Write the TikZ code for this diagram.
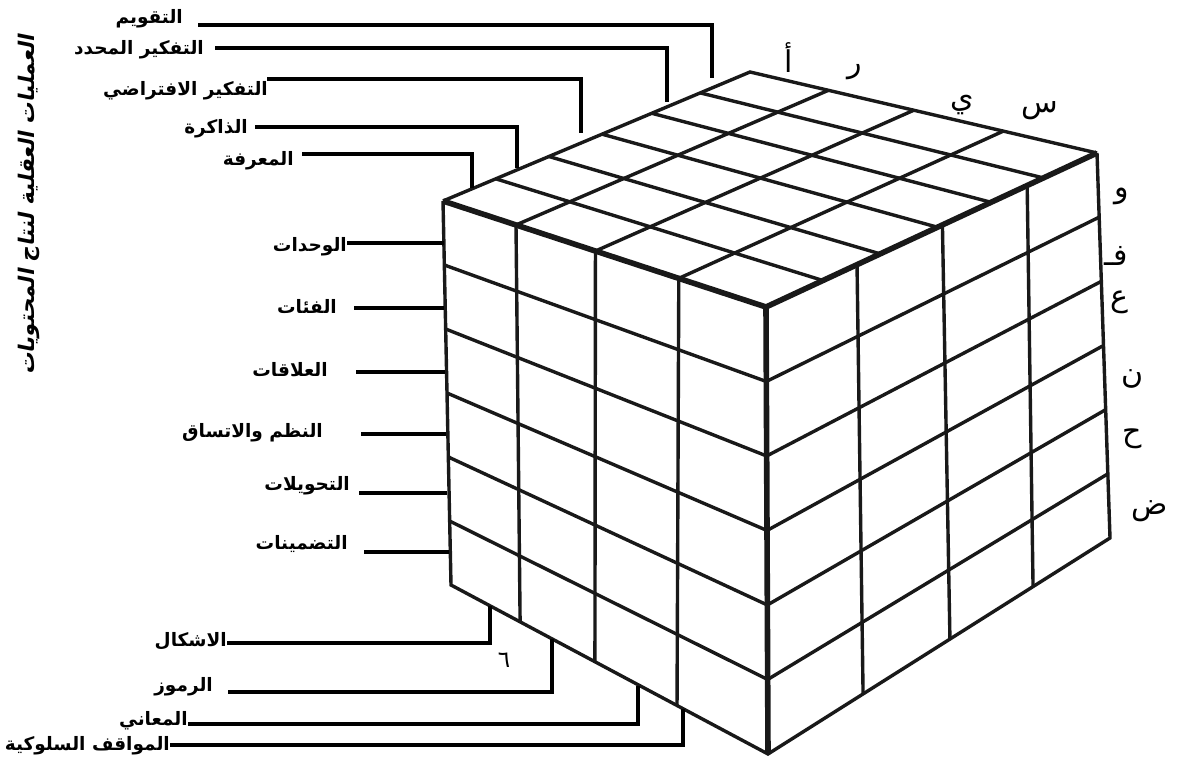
\documentclass[tikz,border=0pt]{standalone}
\usepackage{fontspec}
\usetikzlibrary{calc}
\TeXXeTstate=1
\newfontfamily\arabicfont[Script=Arabic]{DejaVu Sans}
\newfontfamily\arabicbf[Script=Arabic]{DejaVu Sans Bold}
\newfontfamily\titlefont[Script=Arabic,FakeSlant=0.2]{DejaVu Sans Bold}
\begin{document}
\begin{tikzpicture}[x=1pt,y=-1pt,
  gridline/.style={line width=3.4pt, draw=black!90},
  edgeline/.style={line width=5.6pt, draw=black!90, line join=round},
  leader/.style={line width=3.3pt, draw=black},
  lab/.style={font=\arabicbf\fontsize{18.5}{22}\selectfont, inner sep=0pt, anchor=east},
  letr/.style={font=\arabicfont\fontsize{30}{34}\selectfont, inner sep=0pt},
  ttl/.style={font=\titlefont\fontsize{21.5}{26}\selectfont, inner sep=0pt, rotate=90}]
\useasboundingbox (0,0) rectangle (1181,767);
% cube corners
\coordinate (L) at (443,201);
\coordinate (B) at (750,72);
\coordinate (R) at (1097,153);
\coordinate (F) at (766,307);
\coordinate (BL) at (451,585);
\coordinate (FB) at (768,754);
\coordinate (RB) at (1110,538);
% top face grid
\foreach \t in {0.172,0.345,0.518,0.68,0.838}
  \draw[gridline] ($(L)!\t!(B)$) -- ($(F)!\t!(R)$);
\foreach \s in {0.226,0.472,0.73}
  \draw[gridline] ($(L)!\s!(F)$) -- ($(B)!\s!(R)$);
% front face grid
\foreach \s/\u in {0.226/0.218,0.472/0.454,0.73/0.713}
  \draw[gridline] ($(L)!\s!(F)$) -- ($(BL)!\u!(FB)$);
\foreach \k in {1,...,5}
  \draw[gridline] ($(L)!\k/6!(BL)$) -- ($(F)!\k/6!(FB)$);
% right face grid
\foreach \a/\b in {0.275/0.278,0.533/0.532,0.789/0.775}
  \draw[gridline] ($(F)!\a!(R)$) -- ($(FB)!\b!(RB)$);
\foreach \k in {1,...,5}
  \draw[gridline] ($(F)!\k/6!(FB)$) -- ($(R)!\k/6!(RB)$);
% outline
\draw[gridline] (L) -- (B) -- (R);
\draw[gridline] (L) -- (BL) -- (FB) -- (RB) -- (R);
\draw[edgeline] (L) -- (F) -- (R);
\draw[edgeline] (F) -- (FB);

% title
\node[ttl] (title) at (29,205) {\beginR العمليات العقلية لنتاج المحتويات\endR};

% operations (top-left)
\node[lab] (op1) at (183,19) {\beginR التقويم\endR};
\node[lab] (op2) at (204,50) {\beginR التفكير المحدد\endR};
\node[lab] (op3) at (268,91) {\beginR التفكير الافتراضي\endR};
\node[lab] (op4) at (248,129) {\beginR الذاكرة\endR};
\node[lab] (op5) at (294,161) {\beginR المعرفة\endR};
\coordinate (o1a) at (198,25); \coordinate (o1b) at (712,25); \coordinate (o1c) at (712,78);
\coordinate (o2a) at (215,48); \coordinate (o2b) at (667,48); \coordinate (o2c) at (667,102);
\coordinate (o3a) at (267,79); \coordinate (o3b) at (581,79); \coordinate (o3c) at (581,133);
\coordinate (o4a) at (255,127); \coordinate (o4b) at (517,127); \coordinate (o4c) at (517,168);
\coordinate (o5a) at (302,154); \coordinate (o5b) at (472,154); \coordinate (o5c) at (472,188);
\draw[leader] (o1a) -- (o1b) -- (o1c);
\draw[leader] (o2a) -- (o2b) -- (o2c);
\draw[leader] (o3a) -- (o3b) -- (o3c);
\draw[leader] (o4a) -- (o4b) -- (o4c);
\draw[leader] (o5a) -- (o5b) -- (o5c);

% products (front-left)
\node[lab] (pr1) at (347,247) {\beginR الوحدات\endR};
\node[lab] (pr2) at (337,307) {\beginR الفئات\endR};
\node[lab] (pr3) at (328,370) {\beginR العلاقات\endR};
\node[lab] (pr4) at (323,433) {\beginR النظم والاتساق\endR};
\node[lab] (pr5) at (350,486) {\beginR التحويلات\endR};
\node[lab] (pr6) at (348,544) {\beginR التضمينات\endR};
\coordinate (p1a) at (347,243); \coordinate (p1b) at (444,243);
\coordinate (p2a) at (354,308); \coordinate (p2b) at (444,308);
\coordinate (p3a) at (356,372); \coordinate (p3b) at (445,372);
\coordinate (p4a) at (361,434); \coordinate (p4b) at (446,434);
\coordinate (p5a) at (359,493); \coordinate (p5b) at (447,493);
\coordinate (p6a) at (364,552); \coordinate (p6b) at (449,552);
\foreach \i in {1,...,6} \draw[leader] (p\i a) -- (p\i b);

% contents (bottom)
\node[lab] (ct1) at (227,641) {\beginR الاشكال\endR};
\node[lab] (ct2) at (213,687) {\beginR الرموز\endR};
\node[lab] (ct3) at (188,721) {\beginR المعاني\endR};
\node[lab] (ct4) at (170,746) {\beginR المواقف السلوكية\endR};
\coordinate (c1a) at (227,643); \coordinate (c1b) at (490,643); \coordinate (c1c) at (490,606);
\coordinate (c2a) at (228,692); \coordinate (c2b) at (552,692); \coordinate (c2c) at (552,639);
\coordinate (c3a) at (188,724); \coordinate (c3b) at (638,724); \coordinate (c3c) at (638,686);
\coordinate (c4a) at (170,745); \coordinate (c4b) at (683,745); \coordinate (c4c) at (683,709);
\foreach \i in {1,...,4} \draw[leader] (c\i a) -- (c\i b) -- (c\i c);

% letters
\node[letr] (la) at (789,58) {\beginR أ\endR};
\node[letr] (lr) at (855,72) {\beginR ر\endR};
\node[letr] (ly) at (962,105) {\beginR ي\endR};
\node[letr] (ls) at (1040,111) {\beginR س\endR};
\node[letr] (lw) at (1122,196) {\beginR و\endR};
\node[letr] (lf) at (1116,256) {\beginR فـ\endR};
\node[letr] (le) at (1119,302) {\beginR ع\endR};
\node[letr] (ln) at (1133,379) {\beginR ن\endR};
\node[letr] (lh) at (1132,439) {\beginR ح\endR};
\node[letr] (ld) at (1150,511) {\beginR ض\endR};
\node[letr, font=\arabicfont\fontsize{23}{27}\selectfont] (six) at (504,660) {٦};
\end{tikzpicture}
\end{document}
